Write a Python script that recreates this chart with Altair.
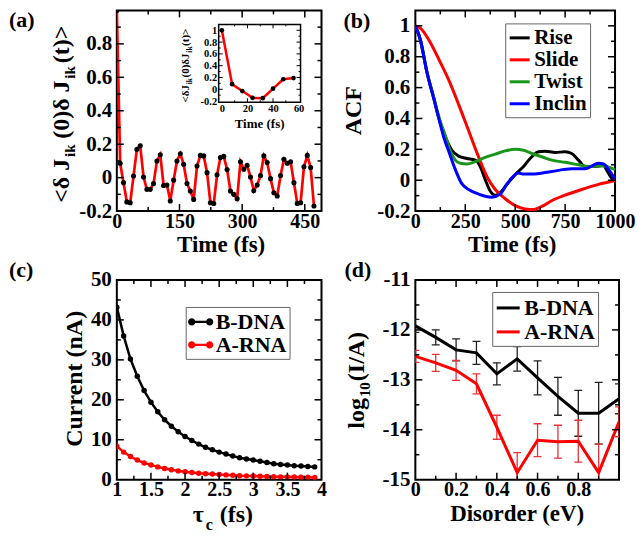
import altair as alt
import pandas as pd

FONT = "Liberation Serif"
LBL = "replace(format(datum.value, '~g'), '\u2212', '-')"

# ---------------- (a) current autocorrelation ----------------
a_time = [0, 8, 16, 24, 32, 40, 48, 56, 64, 72, 80, 88, 96, 104, 112, 120,
          128, 136, 144, 152, 160, 168, 176, 184, 192, 200, 208, 216, 224, 232, 240, 248,
          256, 264, 272, 280, 288, 296, 304, 312, 320, 328, 336, 344, 352, 360, 368, 376,
          384, 392, 400, 408, 416, 424, 432, 440, 448, 456, 464, 472]
a_corr = [1.0, 0.086, -0.03, -0.145, -0.15, 0.01, 0.17, 0.19, 0.004, -0.07, -0.07, -0.035, 0.10, 0.137, -0.047, -0.044,
          -0.14, -0.015, 0.10, 0.143, 0.08, -0.035, -0.08, -0.13, 0.07, 0.133, 0.13, 0.03, -0.15, -0.155, 0.017, 0.12,
          0.127, 0.048, -0.08, -0.10, -0.126, 0.095, 0.05, 0.074, 0.004, -0.078, -0.044, 0.013, 0.13, 0.09, -0.006, -0.09,
          -0.11, 0.013, 0.11, 0.086, 0.095, -0.03, -0.154, -0.15, 0.065, 0.133, 0.06, -0.17]
inset_time = a_time[:8]
inset_corr = a_corr[:8]

# ---------------- (b) ACF of helical parameters ----------------
b_names = ["Rise", "Slide", "Twist", "Inclin"]
b_colors = ["#000000", "#ff0000", "#1a961a", "#0000ff"]
rise_t = [0, 25, 58, 95, 108, 133, 158, 183, 217, 258, 300, 325, 350, 375, 400, 425, 458, 500, 542, 583,
          617, 650, 700, 750, 783, 817, 850, 900, 940, 965, 985, 1000]
rise_v = [1.0, 0.91, 0.70, 0.52, 0.447, 0.34, 0.257, 0.194, 0.156, 0.141, 0.13, 0.089, 0.004, -0.07, -0.097,
          -0.08, -0.027, 0.036, 0.089, 0.152, 0.184, 0.188, 0.18, 0.184, 0.173, 0.13, 0.089, 0.089, 0.095,
          0.05, 0.01, 0.0]
slide_t = [0, 25, 67, 117, 167, 217, 267, 317, 358, 400, 450, 500, 550, 592, 633, 683, 750, 833, 917, 1000]
slide_v = [1.0, 0.985, 0.91, 0.785, 0.65, 0.49, 0.32, 0.15, 0.025, -0.06, -0.12, -0.165, -0.186, -0.19,
           -0.17, -0.133, -0.097, -0.06, -0.027, -0.002]
twist_t = [0, 25, 58, 95, 125, 150, 175, 200, 225, 258, 300, 350, 400, 450, 500, 542, 583, 633, 683, 750,
           817, 867, 933, 1000]
twist_v = [1.0, 0.91, 0.70, 0.52, 0.38, 0.29, 0.19, 0.13, 0.11, 0.105, 0.12, 0.148, 0.169, 0.19, 0.2, 0.194,
           0.173, 0.152, 0.13, 0.116, 0.1, 0.089, 0.093, 0.068]
inclin_t = [0, 25, 58, 100, 142, 172, 200, 230, 267, 317, 383, 425, 458, 483, 517, 542, 583, 683, 783, 850,
            917, 942, 975, 1000]
inclin_v = [1.0, 0.91, 0.70, 0.49, 0.28, 0.17, 0.07, -0.017, -0.06, -0.09, -0.11, -0.09, -0.027, 0.015,
            0.046, 0.04, 0.04, 0.057, 0.074, 0.074, 0.11, 0.105, 0.057, 0.004]

# ---------------- (c) current vs tau_c ----------------
c_names = ["B-DNA", "A-RNA"]
c_colors = ["#000000", "#ff0000"]
c_tau = [1.0, 1.1, 1.2, 1.3, 1.4, 1.5, 1.6, 1.7, 1.8, 1.9, 2.0, 2.1, 2.2, 2.3, 2.4, 2.5, 2.6, 2.7, 2.8, 2.9,
         3.0, 3.1, 3.2, 3.3, 3.4, 3.5, 3.6, 3.7, 3.8, 3.9]
c_bdna = [43.2, 36.0, 30.2, 25.9, 22.3, 19.4, 17.0, 15.0, 13.4, 12.0, 10.8, 9.8, 8.9, 8.1, 7.5, 6.9, 6.4,
          5.9, 5.5, 5.2, 4.9, 4.6, 4.3, 4.0, 3.8, 3.7, 3.5, 3.4, 3.3, 3.2]
c_arna = [8.4, 6.9, 5.8, 4.9, 4.2, 3.7, 3.2, 2.8, 2.5, 2.2, 2.0, 1.8, 1.6, 1.5, 1.4, 1.3, 1.2, 1.1, 1.0,
          0.95, 0.9, 0.85, 0.8, 0.75, 0.7, 0.7, 0.65, 0.6, 0.6, 0.55]

# ---------------- (d) log current vs disorder ----------------
d_names = ["B-DNA", "A-RNA"]
d_colors = ["#000000", "#ff0000"]
d_bar_colors = ["#222222", "#e8333a"]
d_disorder = [0.0, 0.1, 0.2, 0.3, 0.4, 0.5, 0.6, 0.7, 0.8, 0.9, 1.0]
d_bdna = [-11.92, -12.15, -12.40, -12.46, -12.88, -12.58, -12.96, -13.33, -13.67, -13.67, -13.38]
d_bdna_err = [0.13, 0.15, 0.22, 0.23, 0.22, 0.245, 0.34, 0.38, 0.46, 0.62, 0.3]
d_arna = [-12.53, -12.66, -12.81, -13.08, -13.95, -14.86, -14.21, -14.24, -14.23, -14.86, -13.84]
d_arna_err = [0.12, 0.17, 0.2, 0.2, 0.24, 0.4, 0.33, 0.33, 0.42, 0.57, 0.3]

# ---------------- tick values ----------------
a_xlab = [0, 150, 300, 450]
a_ylab = [-0.2, 0, 0.2, 0.4, 0.6, 0.8]
i_xlab = [0, 20, 40, 60]
i_ylab = [-0.2, 0, 0.2, 0.4, 0.6, 0.8, 1]
b_xlab = [0, 250, 500, 750, 1000]
b_ylab = [-0.2, 0, 0.2, 0.4, 0.6, 0.8, 1]
c_xlab = [1, 1.5, 2, 2.5, 3, 3.5, 4]
c_ylab = [0, 10, 20, 30, 40, 50]
d_xlab = [0, 0.2, 0.4, 0.6, 0.8]
d_ylab = [-15, -14, -13, -12, -11]

WA, HA = 205, 201
WB, HB = 200, 201
WC, HC = 205, 200
WD, HD = 204, 200
TY = 41  # x-title baseline below plot
TS = 23  # x-title font size

ONE = pd.DataFrame({"k": [0]})
CW = {'<': 0.570, '>': 0.570, 'δ': 0.55, 'J': 0.5, ' ': 0.25, '(': 0.333, ')': 0.333, '0': 0.5,
      't': 0.333, 'i': 0.278, 'k': 0.556, 'τ': 0.5, 'c': 0.444, 'f': 0.333, 's': 0.389,
      'l': 0.278, 'o': 0.5, 'g': 0.5, '1': 0.5, 'I': 0.389, '/': 0.278, 'A': 0.722}


def tw(s, size):
    return sum(CW.get(ch, 0.5) for ch in s) * size


def label(s, x, y, size=22, angle=None, align="left"):
    kw = dict(text=s, font=FONT, fontSize=size, fontWeight="bold", align=align,
              baseline="alphabetic", color="black")
    if angle is not None:
        kw["angle"] = angle
    return alt.Chart(ONE).mark_text(**kw).encode(x=alt.value(x), y=alt.value(y))


def vrich(pieces, xb, ymid, sep=1):
    total = sum(tw(s, sz) + g * sz + sep for s, sz, sh, g in pieces)
    y = ymid + total / 2
    out = []
    for s, sz, sh, g in pieces:
        y -= g * sz
        out.append(label(s, xb + sh, y, sz, angle=270))
        y -= tw(s, sz) + sep
    return out


def hrich(pieces, x0, yb, sep=1):
    x = x0
    out = []
    for s, sz, sh, g in pieces:
        x += g * sz
        out.append(label(s, x, yb + sh, sz))
        x += tw(s, sz) + sep
    return out


def ax(values, orient, size=20, pad=1, **kw):
    return alt.Axis(values=values, orient=orient, title=None, ticks=False, tickSize=0, domain=False,
                    grid=False, labelFont=FONT, labelFontSize=size, labelFontWeight="bold",
                    labelColor="black", labelPadding=pad, labelFlush=False, labelOverlap=False,
                    labelExpr=LBL, **kw)


def ticks(xs, ys, xax, yax, xmaj, xmin, ymaj, ymin, box, L=7, l=4, sw=1.5):
    x0, y0, x1, y1 = box
    out = []
    for vals, ln in ((xmaj, L), (xmin, l)):
        if not vals:
            continue
        base = alt.Chart(pd.DataFrame({"tv": vals})).mark_rule(color="black", strokeWidth=sw)
        X = alt.X("tv:Q", scale=xs, axis=xax)
        out.append(base.encode(x=X, y=alt.value(y1), y2=alt.value(y1 - ln)))
        out.append(base.encode(x=X, y=alt.value(y0), y2=alt.value(y0 + ln)))
    for vals, ln in ((ymaj, L), (ymin, l)):
        if not vals:
            continue
        base = alt.Chart(pd.DataFrame({"tw": vals})).mark_rule(color="black", strokeWidth=sw)
        Y = alt.Y("tw:Q", scale=ys, axis=yax)
        out.append(base.encode(y=Y, x=alt.value(x0), x2=alt.value(x0 + ln)))
        out.append(base.encode(y=Y, x=alt.value(x1), x2=alt.value(x1 - ln)))
    return out


# ================= panel (a) =================
xa = alt.Scale(domain=[0, 490], nice=False, zero=False)
ya = alt.Scale(domain=[-0.2, 1.0], nice=False, zero=False)
AXA_X = ax(a_xlab, "bottom", size=20, pad=0)
AXA_Y = ax(a_ylab, "left", size=21, pad=5)
dfa = pd.DataFrame({"t": a_time, "v": a_corr})
a_main = [
    alt.Chart(dfa).mark_line(color="#ff0000", strokeWidth=2.7, clip=True).encode(
        x=alt.X("t:Q", scale=xa, axis=AXA_X), y=alt.Y("v:Q", scale=ya, axis=AXA_Y)),
    alt.Chart(dfa).mark_circle(color="black", size=26, opacity=1, clip=True).encode(
        x=alt.X("t:Q", scale=xa, axis=AXA_X), y=alt.Y("v:Q", scale=ya, axis=AXA_Y)),
]
a_main += ticks(xa, ya, AXA_X, AXA_Y, [150, 300, 450], [75, 225, 375], [0, 0.2, 0.4, 0.6, 0.8],
                [-0.1, 0.1, 0.3, 0.5, 0.7, 0.9], (0, 0, WA, HA))
a_main.append(label("(a)", -108, 17, 22))
a_main.append(label("Time (fs)", WA / 2 + 2, HA + TY, TS, align="center"))
a_main += vrich([("<δ J", 24, 0, 0), ("ik", 15, 6, 0), ("(0)δ J", 24, 0, 0.2),
                 ("ik", 15, 6, 0), ("(t)>", 24, 0, 0.08)], -48, HA / 2 + 3)

IX0, IY0, IX1, IY1 = 102, 14, 184, 92
xi = alt.Scale(domain=[-2.5, 61.5], range=[IX0, IX1], nice=False, zero=False)
yi = alt.Scale(domain=[-0.22, 1.1], range=[IY1, IY0], nice=False, zero=False)
AXI_X = ax(i_xlab, "bottom", size=10.5, pad=1, offset=-(HA - IY1))
AXI_Y = ax(i_ylab, "left", size=10.5, pad=2, offset=-IX0)
dfi = pd.DataFrame({"t": inset_time, "v": inset_corr})
box = pd.DataFrame({"x0": [-2.5], "x1": [61.5], "y0": [-0.22], "y1": [1.1]})
a_inset = [
    alt.Chart(box).mark_rect(fill="white", stroke="black", strokeWidth=1.5).encode(
        x=alt.X("x0:Q", scale=xi, axis=AXI_X), x2="x1:Q",
        y=alt.Y("y0:Q", scale=yi, axis=AXI_Y), y2="y1:Q"),
    alt.Chart(dfi).mark_line(color="#ff0000", strokeWidth=2.5).encode(
        x=alt.X("t:Q", scale=xi, axis=AXI_X), y=alt.Y("v:Q", scale=yi, axis=AXI_Y)),
    alt.Chart(dfi).mark_circle(color="black", size=22, opacity=1).encode(
        x=alt.X("t:Q", scale=xi, axis=AXI_X), y=alt.Y("v:Q", scale=yi, axis=AXI_Y)),
]
a_inset += ticks(xi, yi, AXI_X, AXI_Y, [20, 40], [10, 30, 50], [0, 0.2, 0.4, 0.6, 0.8, 1.0],
                 [-0.1, 0.1, 0.3, 0.5, 0.7, 0.9], (IX0, IY0, IX1, IY1), L=4, l=2, sw=1)
a_inset.append(label("Time (fs)", (IX0 + IX1) / 2, 118, 13, align="center"))
a_inset += vrich([("<δJ", 11, 0, 0), ("ik", 7.5, 3, 0), ("(0)δJ", 11, 0, 0),
                  ("ik", 7.5, 3, 0), ("(t)>", 11, 0, 0)], 72, 55, sep=0.5)

pa = alt.layer(alt.layer(*a_main), alt.layer(*a_inset)).resolve_scale(
    x="independent", y="independent").properties(width=WA, height=HA)

# ================= panel (b) =================
xb = alt.Scale(domain=[0, 1000], nice=False, zero=False)
yb = alt.Scale(domain=[-0.2, 1.1], nice=False, zero=False)
AXB_X = ax(b_xlab, "bottom", size=20, pad=0)
AXB_Y = ax(b_ylab, "left", size=21, pad=5.5)
rows = []
for name, ts, vs in zip(b_names, [rise_t, slide_t, twist_t, inclin_t],
                        [rise_v, slide_v, twist_v, inclin_v]):
    for t, v in zip(ts, vs):
        rows.append({"series": name, "t": t, "v": v})
dfb = pd.DataFrame(rows)
b_list = [
    alt.Chart(dfb).mark_line(strokeWidth=3, interpolate="monotone", clip=True).encode(
        x=alt.X("t:Q", scale=xb, axis=AXB_X),
        y=alt.Y("v:Q", scale=yb, axis=AXB_Y),
        color=alt.Color("series:N", scale=alt.Scale(domain=b_names, range=b_colors),
                        legend=alt.Legend(title=None, orient="none", legendX=90, legendY=13,
                                          symbolType="stroke", symbolStrokeWidth=3, symbolSize=400,
                                          labelFont=FONT, labelFontSize=21, labelFontWeight="bold",
                                          labelColor="black", fillColor="white", strokeColor="#666666",
                                          padding=3, rowPadding=-1, labelOffset=3)),
        detail="series:N"),
]
b_list += ticks(xb, yb, AXB_X, AXB_Y, [250, 500, 750], [125, 375, 625, 875],
                [0, 0.2, 0.4, 0.6, 0.8, 1.0], [-0.1, 0.1, 0.3, 0.5, 0.7, 0.9], (0, 0, WB, HB))
b_list.append(label("(b)", -72, 18, 22))
b_list.append(label("ACF", -54, HB / 2, 24, angle=270, align="center"))
b_list.append(label("Time (fs)", WB / 2 - 3, HB + TY, TS, align="center"))
pb = alt.layer(*b_list).properties(width=WB, height=HB)

# ================= panel (c) =================
xc = alt.Scale(domain=[1, 4], nice=False, zero=False)
yc = alt.Scale(domain=[0, 50], nice=False, zero=False)
AXC_X = ax(c_xlab, "bottom", size=20, pad=0)
AXC_Y = ax(c_ylab, "left", size=21, pad=5.5)
dfc = pd.DataFrame({"series": ["B-DNA"] * len(c_tau) + ["A-RNA"] * len(c_tau),
                    "tau": c_tau + c_tau, "cur": c_bdna + c_arna})
csc = alt.Scale(domain=c_names, range=c_colors)
LEG_C = ("M-1,-0.1H1V0.1H-1Z M-0.45,0A0.3,0.3,0,1,1,-1.05,0A0.3,0.3,0,1,1,-0.45,0Z "
         "M1.05,0A0.3,0.3,0,1,1,0.45,0A0.3,0.3,0,1,1,1.05,0Z")
c_list = []
for name, col in zip(c_names, c_colors):
    c_list.append(alt.Chart(dfc[dfc["series"] == name]).mark_line(
        color=col, strokeWidth=2.5, clip=True).encode(
        x=alt.X("tau:Q", scale=xc, axis=AXC_X), y=alt.Y("cur:Q", scale=yc, axis=AXC_Y)))
c_list.append(alt.Chart(dfc).mark_circle(size=30, opacity=1, clip=True).encode(
    x=alt.X("tau:Q", scale=xc, axis=AXC_X), y=alt.Y("cur:Q", scale=yc, axis=AXC_Y),
    color=alt.Color("series:N", scale=csc,
                    legend=alt.Legend(title=None, orient="none", legendX=69, legendY=27,
                                      symbolType=LEG_C, symbolSize=576, symbolStrokeWidth=0,
                                      symbolOpacity=1,
                                      labelFont=FONT, labelFontSize=22, labelFontWeight="bold",
                                      labelColor="black", fillColor="white", strokeColor="#666666",
                                      padding=3, rowPadding=-3, labelOffset=3))))
c_list += ticks(xc, yc, AXC_X, AXC_Y, [1.5, 2, 2.5, 3, 3.5], [1.25, 1.75, 2.25, 2.75, 3.25, 3.75],
                [10, 20, 30, 40], [5, 15, 25, 35, 45], (0, 0, WC, HC))
c_list.append(label("(c)", -108, -3, 22))
c_list.append(label("Current (nA)", -35, HC / 2 - 1, 24, angle=270, align="center"))
c_list += hrich([("τ", 24, 0, 0), ("c", 16, 8, 0), ("(fs)", 24, 0, 0.25)], 76, HC + 42)
pc = alt.layer(*c_list).properties(width=WC, height=HC)

# ================= panel (d) =================
xd = alt.Scale(domain=[0, 1.0], nice=False, zero=False)
yd = alt.Scale(domain=[-15, -11], nice=False, zero=False)
AXD_X = ax(d_xlab, "bottom", size=20, pad=0)
AXD_Y = ax(d_ylab, "left", size=21, pad=5.5)
dfd = pd.DataFrame({"series": ["B-DNA"] * len(d_disorder) + ["A-RNA"] * len(d_disorder),
                    "w": d_disorder + d_disorder, "y": d_bdna + d_arna,
                    "e": d_bdna_err + d_arna_err})
dfd["lo"] = dfd["y"] - dfd["e"]
dfd["hi"] = dfd["y"] + dfd["e"]
d_list = []
for name, col in zip(d_names, d_bar_colors):
    sub = dfd[dfd["series"] == name]
    d_list.append(alt.Chart(sub).mark_rule(color=col, strokeWidth=1.3, clip=True).encode(
        x=alt.X("w:Q", scale=xd, axis=AXD_X), y=alt.Y("lo:Q", scale=yd, axis=AXD_Y), y2="hi:Q"))
    for f in ("lo", "hi"):
        d_list.append(alt.Chart(sub).mark_tick(color=col, size=8, thickness=1.3, orient="horizontal",
                                               opacity=1, clip=True).encode(
            x=alt.X("w:Q", scale=xd, axis=AXD_X), y=alt.Y(f + ":Q", scale=yd, axis=AXD_Y)))
d_list.append(alt.Chart(dfd).mark_line(strokeWidth=3, clip=True).encode(
    x=alt.X("w:Q", scale=xd, axis=AXD_X),
    y=alt.Y("y:Q", scale=yd, axis=AXD_Y),
    color=alt.Color("series:N", scale=alt.Scale(domain=d_names, range=d_colors),
                    legend=alt.Legend(title=None, orient="none", legendX=77, legendY=12,
                                      symbolType="stroke", symbolStrokeWidth=3, symbolSize=529,
                                      labelFont=FONT, labelFontSize=22, labelFontWeight="bold",
                                      labelColor="black", fillColor="white", strokeColor="#666666",
                                      padding=3, rowPadding=-1, labelOffset=3)),
    detail="series:N"))
d_list += ticks(xd, yd, AXD_X, AXD_Y, [0.2, 0.4, 0.6, 0.8], [0.1, 0.3, 0.5, 0.7, 0.9],
                [-14, -13, -12], [-14.5, -13.5, -12.5, -11.5], (0, 0, WD, HD))
d_list.append(label("(d)", -71, -3, 22))
d_list.append(label("Disorder (eV)", WD / 2, HD + TY, TS, align="center"))
d_list += vrich([("log", 24, 0, 0), ("10", 15, 6, 0), ("(I/A)", 24, 0, 0)], -51, HD / 2)
pd_ = alt.layer(*d_list).properties(width=WD, height=HD)

chart = alt.concat(pa, pb, pc, pd_, columns=2, spacing={"row": 69, "column": 94},
                   bounds="flush").resolve_scale(color="independent").configure(
    font=FONT, style={"guide-label": {"font": FONT, "fontWeight": "bold"}}).configure_axis(
    labelFont=FONT, labelFontWeight="bold", labelColor="black").configure_legend(
    labelFont=FONT).configure_view(
    stroke="black", strokeWidth=2).properties(padding=0, background="white")

chart.save("out.html", embed_options={"renderer": "svg", "actions": False})
